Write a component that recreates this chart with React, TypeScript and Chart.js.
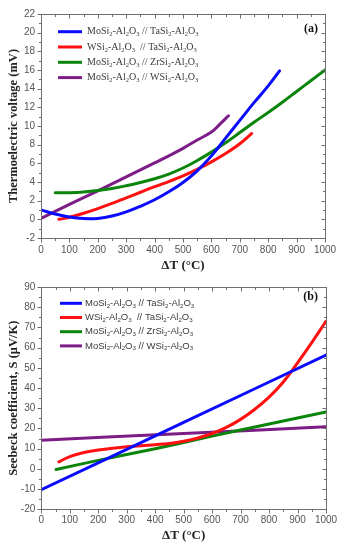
import React, { useEffect, useRef } from 'react';
import { Chart, registerables } from 'chart.js';
Chart.register(...registerables);

// ---------- shared ----------
const seriesNames = [
  'MoSi2-Al2O3 // TaSi2-Al2O3',
  'WSi2-Al2O3  // TaSi2-Al2O3',
  'MoSi2-Al2O3 // ZrSi2-Al2O3',
  'MoSi2-Al2O3 // WSi2-Al2O3',
];
const seriesColors = ['#0a0aff', '#ff1010', '#0b840b', '#7d1c86'];

// ---------- (a) Thermoelectric voltage (mV) vs ΔT (°C) ----------
const aBlueT = [0, 50, 100, 150, 200, 250, 300, 350, 400, 450, 500, 550, 600, 650, 700, 750, 800, 840];
const aBlueV = [1.0, 0.57, 0.25, 0.08, 0.1, 0.35, 0.8, 1.4, 2.1, 2.95, 3.95, 5.2, 6.8, 8.7, 10.6, 12.5, 14.3, 15.9];
const aRedT = [63, 100, 150, 200, 250, 300, 350, 400, 450, 500, 550, 600, 650, 700, 742];
const aRedV = [0, 0.22, 0.65, 1.15, 1.7, 2.3, 2.9, 3.5, 4.05, 4.65, 5.35, 6.15, 7.05, 8.1, 9.2];
const aGreenT = [50, 100, 150, 200, 250, 300, 350, 400, 450, 500, 550, 600, 650, 700, 750, 800, 850, 900, 950, 1000];
const aGreenV = [2.85, 2.86, 2.93, 3.08, 3.3, 3.6, 3.95, 4.35, 4.85, 5.5, 6.3, 7.2, 8.2, 9.3, 10.4, 11.45, 12.55, 13.7, 14.85, 16.0];
const aPurpleT = [0, 100, 200, 300, 400, 450, 500, 550, 600, 630, 660];
const aPurpleV = [0.1, 1.6, 3.05, 4.55, 6.05, 6.8, 7.6, 8.5, 9.35, 10.2, 11.1];

// ---------- (b) Seebeck coefficient (µV/K) vs ΔT (°C) ----------
const bBlueT = [0, 500, 1000];
const bBlueS = [-10.3, 23.0, 56.3];
const bRedT = [62, 100, 150, 200, 250, 300, 350, 400, 450, 500, 550, 600, 650, 700, 750, 800, 850, 900, 950, 1000];
const bRedS = [3.5, 6.1, 8.1, 9.3, 10.2, 10.9, 11.5, 12.0, 12.6, 13.7, 15.3, 17.5, 20.5, 24.5, 29.5, 35.5, 43.0, 52.5, 62.5, 73.0];
const bGreenT = [52, 200, 400, 600, 800, 1000];
const bGreenS = [-0.3, 4.2, 10.0, 16.2, 22.2, 28.2];
const bPurpleT = [0, 500, 1000];
const bPurpleS = [14.2, 17.5, 20.8];

const xTicksMin = 0, xTicksMax = 1000, xMajor = 100, xMinor = 50;
const aYMin = -2, aYMax = 22, aYMajor = 2, aYMinor = 1;
const bYMin = -20, bYMax = 90, bYMajor = 10, bYMinor = 5;

const SERIF = '"Liberation Serif", "Times New Roman", serif';
const SANS = '"Liberation Sans", Arial, sans-serif';

function drawRich(ctx: CanvasRenderingContext2D, text: string, x: number, y: number, family: string, size: number, color: string) {
  ctx.fillStyle = color;
  ctx.textBaseline = 'middle';
  ctx.textAlign = 'left';
  let cx = x;
  let buf = '';
  const flush = () => {
    if (!buf) return;
    ctx.font = `${size}px ${family}`;
    ctx.fillText(buf, cx, y);
    cx += ctx.measureText(buf).width;
    buf = '';
  };
  for (const ch of text) {
    if (/\d/.test(ch)) {
      flush();
      const s = size * 0.65;
      ctx.font = `${s}px ${family}`;
      ctx.fillText(ch, cx, y + size * 0.3);
      cx += ctx.measureText(ch).width;
    } else buf += ch;
  }
  flush();
}

const framePlugin = {
  id: 'frameTicks',
  afterDraw(chart: any, _args: any, o: any) {
    const { ctx, chartArea, scales } = chart;
    const { left, right, top, bottom } = chartArea;
    const xs = scales.x, ys = scales.y;
    ctx.save();
    ctx.strokeStyle = '#6f6f6f';
    ctx.lineWidth = 1;
    const L = Math.round(left) + 0.5, R = Math.round(right) + 0.5, T = Math.round(top) + 0.5, B = Math.round(bottom) + 0.5;
    ctx.strokeRect(L, T, R - L, B - T);
    ctx.beginPath();
    for (let v = xs.min; v <= xs.max + 1e-9; v += o.xMinor) {
      const px = Math.round(xs.getPixelForValue(v)) + 0.5;
      const len = Math.abs(v % o.xMajor) < 1e-9 ? 4 : 2.5;
      ctx.moveTo(px, B); ctx.lineTo(px, B + len);
      ctx.moveTo(px, T); ctx.lineTo(px, T + len);
    }
    for (let v = ys.min; v <= ys.max + 1e-9; v += o.yMinor) {
      const py = Math.round(ys.getPixelForValue(v)) + 0.5;
      const len = Math.abs(v % o.yMajor) < 1e-9 ? 4 : 2.5;
      ctx.moveTo(L - len, py); ctx.lineTo(L, py);
      ctx.moveTo(R - len, py); ctx.lineTo(R, py);
    }
    ctx.stroke();

    // legend
    o.names.forEach((name: string, i: number) => {
      const y = o.legendY + i * o.legendGap;
      ctx.strokeStyle = o.colors[i];
      ctx.lineWidth = 3;
      ctx.beginPath();
      ctx.moveTo(o.lineX0, y);
      ctx.lineTo(o.lineX1, y);
      ctx.stroke();
      drawRich(ctx, name, o.textX, y, o.legendFamily, o.legendSize, '#3a3a3a');
    });
    // panel label
    ctx.fillStyle = '#111';
    ctx.font = `bold 12px ${SERIF}`;
    ctx.textAlign = 'right';
    ctx.textBaseline = 'middle';
    ctx.fillText(o.panel, o.panelX, o.panelY);
    ctx.restore();
  },
};

function ds(xv: number[], yv: number[], i: number) {
  return {
    label: seriesNames[i],
    data: xv.map((x, j) => ({ x, y: yv[j] })),
    borderColor: seriesColors[i],
    backgroundColor: seriesColors[i],
    borderWidth: 3,
    pointRadius: 0,
    fill: false,
    tension: 0.4,
    borderCapStyle: 'round' as const,
  };
}

function makeConfig(p: any) {
  return {
    type: 'line' as const,
    data: { datasets: p.datasets },
    options: {
      responsive: false,
      animation: false as const,
      events: [],
      layout: { padding: { top: p.padTop, right: p.padRight, left: 0, bottom: 0 } },
      plugins: {
        legend: { display: false },
        tooltip: { enabled: false },
        frameTicks: p.frame,
      },
      scales: {
        x: {
          type: 'linear' as const,
          min: xTicksMin,
          max: xTicksMax,
          grid: { display: false, drawTicks: false },
          border: { display: false },
          ticks: { stepSize: xMajor, font: { family: SANS, size: 10 }, color: '#555', padding: p.xTickPad, maxRotation: 0, autoSkip: false, callback: (v: any) => String(v) },
          title: { display: true, text: 'ΔT (°C)', font: { family: SERIF, size: 13, weight: 'bold' as const }, color: '#222', padding: { top: 0, bottom: p.xTitlePad } },
          afterFit: (s: any) => { s.height = p.xHeight; },
        },
        y: {
          type: 'linear' as const,
          min: p.yMin,
          max: p.yMax,
          grid: { display: false, drawTicks: false },
          border: { display: false },
          ticks: { stepSize: p.yMajor, font: { family: SANS, size: 10 }, color: '#555', padding: 6, autoSkip: false, callback: (v: any) => String(v) },
          title: { display: true, text: p.yTitle, font: { family: SERIF, size: 12.5, weight: 'bold' as const }, color: '#222', padding: { top: p.yTitlePad, bottom: 0 } },
          afterFit: (s: any) => { s.width = p.yWidth; },
        },
      },
    },
    plugins: [framePlugin],
  };
}

function ChartCanvas({ config, top }: { config: any; top: number }) {
  const ref = useRef<HTMLCanvasElement>(null);
  useEffect(() => {
    const c = new Chart(ref.current as HTMLCanvasElement, config);
    return () => c.destroy();
  }, []);
  return (
    <canvas
      ref={ref}
      width={345}
      height={275}
      style={{ position: 'absolute', left: 0, top, width: 345, height: 275, display: 'block' }}
    />
  );
}

const configA = makeConfig({
  datasets: [ds(aBlueT, aBlueV, 0), ds(aRedT, aRedV, 1), ds(aGreenT, aGreenV, 2), ds(aPurpleT, aPurpleV, 3)],
  padTop: 14, padRight: 20, xHeight: 37, yWidth: 41, xTickPad: 6, xTitlePad: 2,
  yMin: aYMin, yMax: aYMax, yMajor: aYMajor, yTitle: 'Thermoelectric voltage (mV)', yTitlePad: 6,
  frame: {
    xMinor, xMajor, yMinor: aYMinor, yMajor: aYMajor,
    names: seriesNames, colors: seriesColors,
    legendY: 31.7, legendGap: 15.3, lineX0: 58, lineX1: 82, textX: 87,
    legendFamily: SERIF, legendSize: 10,
    panel: '(a)', panelX: 318, panelY: 29,
  },
});

const configB = makeConfig({
  datasets: [ds(bBlueT, bBlueS, 0), ds(bRedT, bRedS, 1), ds(bGreenT, bGreenS, 2), ds(bPurpleT, bPurpleS, 3)],
  padTop: 10, padRight: 19, xHeight: 40.7, yWidth: 41.3, xTickPad: 5.4, xTitlePad: 7,
  yMin: bYMin, yMax: bYMax, yMajor: bYMajor, yTitle: 'Seebeck coefficient, S (μV/K)', yTitlePad: 6,
  frame: {
    xMinor, xMajor, yMinor: bYMinor, yMajor: bYMajor,
    names: seriesNames, colors: seriesColors,
    legendY: 28.3, legendGap: 14.2, lineX0: 60, lineX1: 82, textX: 85,
    legendFamily: SANS, legendSize: 9.5,
    panel: '(b)', panelX: 318, panelY: 22,
  },
});

export default function App() {
  return (
    <div style={{ position: 'absolute', left: 0, top: 0, width: 345, height: 550, background: '#fff' }}>
      <ChartCanvas config={configA} top={0} />
      <ChartCanvas config={configB} top={275} />
    </div>
  );
}
